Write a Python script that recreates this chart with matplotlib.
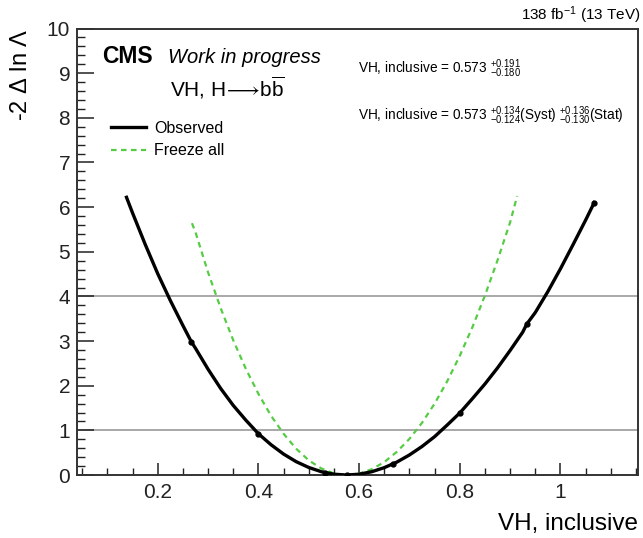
import matplotlib
matplotlib.use("Agg")
import matplotlib.pyplot as plt
from matplotlib.ticker import MultipleLocator

plt.rcParams["font.family"] = ["Liberation Sans", "DejaVu Sans"]
plt.rcParams["mathtext.fontset"] = "custom"
plt.rcParams["mathtext.rm"] = "Liberation Sans"
plt.rcParams["mathtext.it"] = "Liberation Sans:italic"
plt.rcParams["mathtext.bf"] = "Liberation Sans:bold"
plt.rcParams["mathtext.fallback"] = "stixsans"

# observed likelihood scan
obs_x = [0.138, 0.15, 0.175, 0.2, 0.225, 0.25, 0.267, 0.275, 0.3, 0.325,
         0.35, 0.375, 0.4, 0.425, 0.45, 0.475, 0.5, 0.525, 0.55, 0.575,
         0.6, 0.625, 0.65, 0.667, 0.675, 0.7, 0.725, 0.75, 0.775, 0.8,
         0.825, 0.85, 0.875, 0.9, 0.925, 0.933, 0.95, 0.975, 1.0, 1.025,
         1.05, 1.067]
obs_y = [6.22, 5.87, 5.17, 4.51, 3.91, 3.35, 2.98, 2.84, 2.37, 1.94,
         1.56, 1.23, 0.925, 0.68, 0.47, 0.30, 0.17, 0.075, 0.019, 0.0,
         0.019, 0.074, 0.166, 0.25, 0.29, 0.45, 0.64, 0.86, 1.12, 1.39,
         1.71, 2.04, 2.40, 2.79, 3.20, 3.38, 3.64, 4.11, 4.62, 5.16,
         5.71, 6.10]

# scan points shown as markers
scan_x = [0.267, 0.4, 0.533, 0.575, 0.667, 0.8, 0.933, 1.067]
scan_y = [2.98, 0.925, 0.05, 0.0, 0.25, 1.39, 3.38, 6.10]

# freeze all (stat only)
frz_x = [0.268, 0.275, 0.3, 0.325, 0.35, 0.375, 0.4, 0.425, 0.45, 0.475,
         0.5, 0.525, 0.55, 0.575, 0.6, 0.625, 0.65, 0.675, 0.7, 0.725,
         0.75, 0.775, 0.8, 0.825, 0.85, 0.875, 0.9, 0.914]
frz_y = [5.64, 5.44, 4.54, 3.74, 3.02, 2.38, 1.82, 1.33, 0.925, 0.59,
         0.33, 0.148, 0.037, 0.0, 0.033, 0.13, 0.29, 0.52, 0.81, 1.17,
         1.60, 2.10, 2.67, 3.31, 4.02, 4.81, 5.66, 6.25]

fig = plt.figure(figsize=(6.43, 5.38), dpi=100)
ax = fig.add_axes([0.12, 0.117, 0.873, 0.83])

# reference lines at 1 and 4
for lvl in [1, 4]:
    ax.axhline(lvl, color="#a8a8a8", lw=1.4, zorder=1)

ax.plot(obs_x, obs_y, color="black", lw=2.4, label="Observed", zorder=3,
        solid_joinstyle="round")
ax.plot(scan_x, scan_y, "o", color="black", ms=3.5, zorder=4)
ax.plot(frz_x, frz_y, color="#55cc44", lw=1.6, ls=(0, (2.5, 2)),
        label="Freeze all", zorder=2)

ax.set_xlim(0.04, 1.155)
ax.set_ylim(0, 10)

ax.xaxis.set_minor_locator(MultipleLocator(0.05))
ax.yaxis.set_major_locator(MultipleLocator(1))
ax.yaxis.set_minor_locator(MultipleLocator(0.2))
ax.set_xticks([0.2, 0.4, 0.6, 0.8, 1.0])
ax.set_xticklabels(["0.2", "0.4", "0.6", "0.8", "1"])
ax.tick_params(which="both", direction="in", top=False, right=False,
               labelsize=15, colors="#222222")
ax.tick_params(axis="y", which="major", length=12, width=1.1, pad=5)
ax.tick_params(axis="y", which="minor", length=6, width=1.0)
ax.tick_params(axis="x", which="major", length=9, width=1.1, pad=6)
ax.tick_params(axis="x", which="minor", length=5, width=1.0)
for s in ax.spines.values():
    s.set_linewidth(1.4)
    s.set_color("#333333")

ax.set_xlabel("VH, inclusive", fontsize=17.5, loc="right", labelpad=8)
ax.set_ylabel(r"-2 $\Delta$ ln $\Lambda$", fontsize=17, loc="top")
ax.yaxis.set_label_coords(-0.08, 1.0)

# header texts
fig.text(0.997, 0.972, r"138 fb$^{-1}$ (13 TeV)", ha="right", va="center",
         fontsize=11)
ax.text(0.045, 0.938, "CMS", transform=ax.transAxes, fontsize=16.5,
        fontweight="bold", va="center")
ax.text(0.162, 0.936, "Work in progress", transform=ax.transAxes,
        fontsize=14.5, style="italic", va="center")
ax.text(0.165, 0.866,
        r"VH, H$\!\longrightarrow\!$b$\overline{\mathrm{b}}$",
        transform=ax.transAxes, fontsize=15, va="center")
ax.text(0.5, 0.91, r"VH, inclusive = 0.573 $^{+0.191}_{-0.180}$",
        transform=ax.transAxes, fontsize=9.8, va="center")
ax.text(0.5, 0.805,
        r"VH, inclusive = 0.573 $^{+0.134}_{-0.124}$(Syst) $^{+0.136}_{-0.130}$(Stat)",
        transform=ax.transAxes, fontsize=9.8, va="center")

ax.legend(loc="upper left", bbox_to_anchor=(0.035, 0.825), frameon=False,
          fontsize=11.5, handlelength=2.2, handletextpad=0.5,
          labelspacing=0.45)

fig.savefig("out.png", dpi=100)
